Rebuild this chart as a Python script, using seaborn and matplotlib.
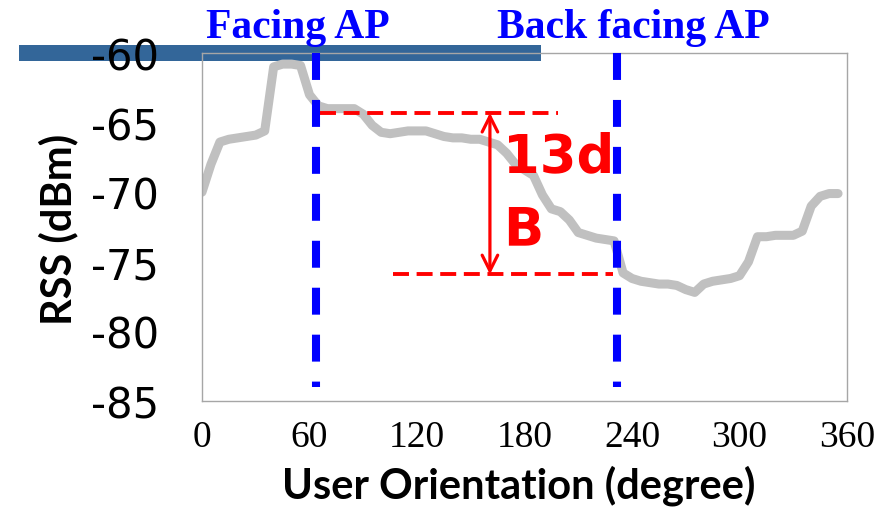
import matplotlib
matplotlib.use("Agg")
import matplotlib.pyplot as plt
from matplotlib.patches import Rectangle
from matplotlib.transforms import blended_transform_factory
import seaborn as sns
import pandas as pd

# RSS measured while the user turns around in place (5 degree steps)
orientation_deg = list(range(0, 360, 5))
rss_dbm = [
    -70.0, -68.0, -66.4, -66.2, -66.1, -66.0, -65.9, -65.6,
    -61.0, -60.8, -60.8, -60.9, -63.0, -63.8, -64.0, -64.0,
    -64.0, -64.0, -64.4, -65.2, -65.7, -65.8, -65.7, -65.6,
    -65.6, -65.6, -65.8, -66.0, -66.1, -66.1, -66.2, -66.2,
    -66.4, -66.6, -67.2, -68.0, -68.4, -68.8, -70.2, -71.2,
    -71.4, -72.0, -72.9, -73.1, -73.3, -73.4, -73.5, -75.8,
    -76.2, -76.4, -76.5, -76.6, -76.6, -76.7, -77.0, -77.2,
    -76.6, -76.4, -76.3, -76.2, -76.0, -75.0, -73.2, -73.2,
    -73.1, -73.1, -73.1, -72.8, -71.0, -70.3, -70.1, -70.1,
]

x_ticks = [0, 60, 120, 180, 240, 300, 360]
y_ticks = [-60, -65, -70, -75, -80, -85]

facing_deg = 63.6
back_facing_deg = 231.6
marker_labels = ["Facing AP", "Back facing AP"]
marker_label_x = [53.6, 241.0]

gap_top_dbm = -64.3
gap_bottom_dbm = -75.9
gap_top_span = [65.9, 198.7]
gap_bottom_span = [106.6, 229.4]
gap_arrow_x = 160.7
gap_label = "13d\nB"

df = pd.DataFrame({"orientation": orientation_deg, "rss": rss_dbm})

sns.set_theme(style="white")
plt.rcParams["lines.scale_dashes"] = False

fig = plt.figure(figsize=(8.89, 5.10), dpi=100)
ax = fig.add_axes([0.2272, 0.2118, 0.7256, 0.6824])

# title-bar decoration of the slide
ax.add_patch(Rectangle((0.0214, 0.8784), 0.587, 0.032, transform=fig.transFigure,
                       facecolor="#336699", edgecolor="none", clip_on=False, zorder=0.5))

sns.lineplot(data=df, x="orientation", y="rss", ax=ax, color="#C0C0C0",
             linewidth=6.5, zorder=2)

# orientation markers
for xv in (facing_deg, back_facing_deg):
    ax.plot([xv, xv], [-60, -84], color="#0000FF", lw=5.8, dashes=(19.4, 14.4),
            solid_capstyle="butt", dash_capstyle="butt", clip_on=False, zorder=4)

# reference levels for the RSS gap
ax.plot(gap_top_span, [gap_top_dbm, gap_top_dbm], color="#FF0000", lw=2.8,
        dashes=(11.5, 5.5), zorder=3)
ax.plot(gap_bottom_span, [gap_bottom_dbm, gap_bottom_dbm], color="#FF0000", lw=2.8,
        dashes=(11.5, 5.5), zorder=3)
ax.annotate("", xy=(gap_arrow_x, gap_top_dbm), xytext=(gap_arrow_x, gap_bottom_dbm),
            arrowprops=dict(arrowstyle="<->", color="#FF0000", lw=2.3,
                            mutation_scale=28, shrinkA=0, shrinkB=0), zorder=5)
ax.text(168, -73.72, gap_label, color="#FF0000", fontsize=38, fontweight="bold",
        family="DejaVu Sans", ha="left", va="baseline", linespacing=1.5, zorder=6)

trans = blended_transform_factory(ax.transData, ax.transAxes)
for xv, lab in zip(marker_label_x, marker_labels):
    ax.text(xv, 1.046, lab, transform=trans, color="#0000FF", fontsize=30,
            fontweight="bold", family="Liberation Serif", ha="center", va="baseline",
            clip_on=False)

ax.set_xlim(0, 360)
ax.set_ylim(-85, -60)
ax.set_xticks(x_ticks)
ax.set_yticks(y_ticks)
ax.set_xticklabels([str(t) for t in x_ticks], family="Liberation Serif", fontsize=27,
                   color="black")
ax.set_yticklabels([str(t) for t in y_ticks], family="DejaVu Sans", fontsize=30,
                   color="black")
ax.tick_params(axis="x", length=0, pad=13)
ax.tick_params(axis="y", length=0, pad=31)

ax.set_xlabel("User Orientation (degree)", family="Lato", fontweight="bold",
              fontsize=30, color="black")
ax.set_ylabel("RSS (dBm)", family="Lato", fontweight="bold", fontsize=30,
              color="black")
ax.xaxis.set_label_coords(0.491, -0.183)
ax.xaxis.label.set_va("top")
ax.yaxis.set_label_coords(-0.192, 0.497)

ax.grid(False)
for side in ("left", "right", "top", "bottom"):
    ax.spines[side].set_visible(True)
    ax.spines[side].set_color("#A6A6A6")
    ax.spines[side].set_linewidth(1.0)
    ax.spines[side].set_zorder(2.5)

fig.savefig("out.png", dpi=100)
